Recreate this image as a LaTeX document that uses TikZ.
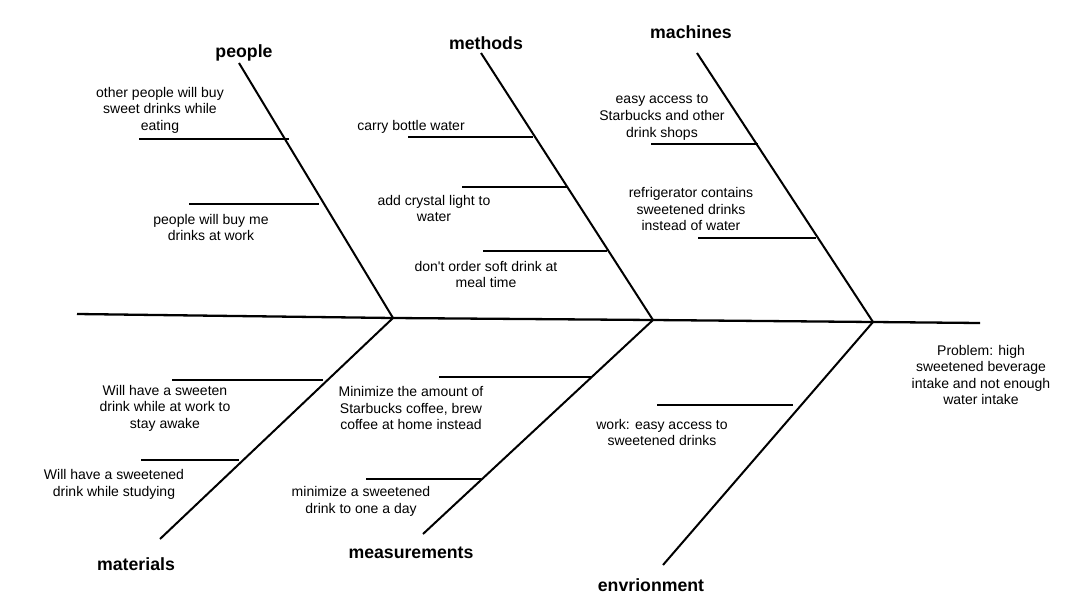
\documentclass[tikz,border=0pt]{standalone}
\usepackage{fontspec}
\setmainfont{Liberation Sans}
\begin{document}
\begin{tikzpicture}[x=1pt,y=-1pt,
  bone/.style={line width=2pt},
  spine/.style={line width=2.3pt},
  sub/.style={line width=1.8pt},
  cause/.style={align=center,inner sep=0pt,font=\fontsize{14}{16.6}\selectfont},
  head/.style={inner sep=0pt,font=\bfseries\fontsize{17.7}{20}\selectfont}]
\useasboundingbox (0,0) rectangle (1074,613);
% spine
\coordinate (s0) at (77,314);
\coordinate (j1) at (393,318);
\coordinate (j2) at (653,320);
\coordinate (j3) at (873,322);
\coordinate (s1) at (980,323);
\draw[spine] (s0) -- (j1) -- (j2) -- (j3) -- (s1);
% bone ends
\coordinate (tPeople) at (239,63);
\coordinate (tMethods) at (481,53);
\coordinate (tMachines) at (697,53);
\coordinate (bMaterials) at (160,539);
\coordinate (bMeasure) at (423,534);
\coordinate (bEnv) at (663,565);
\draw[bone] (tPeople) -- (j1);
\draw[bone] (tMethods) -- (j2);
\draw[bone] (tMachines) -- (j3);
\draw[bone] (bMaterials) -- (j1);
\draw[bone] (bMeasure) -- (j2);
\draw[bone] (bEnv) -- (j3);
% sub branches
\coordinate (p1a) at (139,139); \coordinate (p1b) at (289,139);
\coordinate (p2a) at (189,204); \coordinate (p2b) at (319,204);
\coordinate (m1a) at (408,137); \coordinate (m1b) at (533,137);
\coordinate (m2a) at (462,187); \coordinate (m2b) at (567,187);
\coordinate (m3a) at (483,251); \coordinate (m3b) at (607,251);
\coordinate (c1a) at (651,144); \coordinate (c1b) at (758,144);
\coordinate (c2a) at (698,238); \coordinate (c2b) at (816,238);
\coordinate (a1a) at (172,380); \coordinate (a1b) at (323,380);
\coordinate (a2a) at (141,460); \coordinate (a2b) at (239,460);
\coordinate (e1a) at (439,377); \coordinate (e1b) at (592,377);
\coordinate (e2a) at (366,479); \coordinate (e2b) at (481,479);
\coordinate (v1a) at (657,405); \coordinate (v1b) at (793,405);
\foreach \s in {p1,p2,m1,m2,m3,c1,c2,a1,a2,e1,e2,v1}
  \draw[sub] (\s a) -- (\s b);
% headings
\node[head] (hPeople) at (244,53) {people};
\node[head] (hMethods) at (486,43) {methods};
\node[head] (hMachines) at (691,32) {machines};
\node[head] (hMaterials) at (136,564) {materials};
\node[head] (hMeasure) at (411,553) {measurements};
\node[head] (hEnv) at (651,585) {envrionment};
% causes
\node[cause] (tp1) at (160,110) {other people will buy\\sweet drinks while\\eating};
\node[cause] (tp2) at (211,227.5) {people will buy me\\drinks at work};
\node[cause] (tm1) at (411,127) {carry bottle water};
\node[cause] (tm2) at (434,208.5) {add crystal light to\\water};
\node[cause] (tm3) at (486,274.5) {don\textquotesingle t order soft drink at\\meal time};
\node[cause] (tc1) at (662,117.5) {easy access to\\Starbucks and other\\drink shops};
\node[cause] (tc2) at (691,209) {refrigerator contains\\sweetened drinks\\instead of water};
\node[cause] (ta1) at (165,408) {Will have a sweeten\\drink while at work to\\stay awake};
\node[cause] (ta2) at (114,484.5) {Will have a sweetened\\drink while studying};
\node[cause] (te1) at (411,408) {Minimize the amount of\\Starbucks coffee, brew\\coffee at home instead};
\node[cause] (te2) at (361,501.5) {minimize a sweetened\\drink to one a day};
\node[cause] (tv1) at (662,432.5) {work: easy access to\\sweetened drinks};
\node[cause] (prob) at (981,375) {Problem: high\\sweetened beverage\\intake and not enough\\water intake};
\end{tikzpicture}
\end{document}
